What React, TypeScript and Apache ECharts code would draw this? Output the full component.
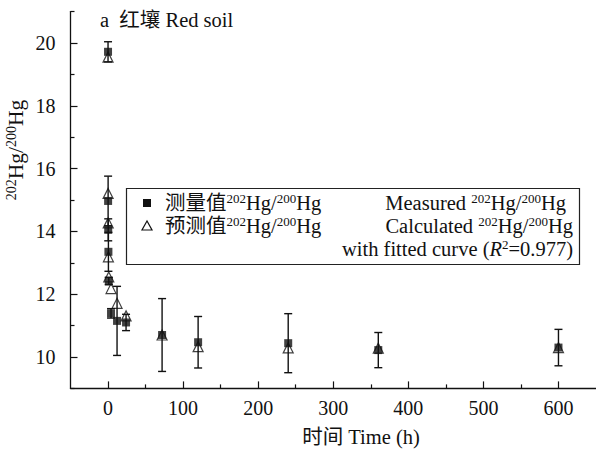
import React, { useEffect, useRef } from "react";
import * as echarts from "echarts";

const times = [0, 0.1, 0.25, 0.5, 1, 4, 12, 24, 72, 120, 240, 360, 600];
const measured = [19.72, 14.97, 14.05, 13.35, 12.42, 11.39, 11.15, 11.1, 10.7, 10.47, 10.44, 10.22, 10.3];
const measuredSD = [0.32, 0.79, 0.35, 0.62, 0.12, 0.15, 1.1, 0.26, 1.16, 0.82, 0.94, 0.56, 0.58];
const calculated = [19.55, 15.21, 14.27, 13.19, 12.55, 12.18, 11.71, 11.31, 10.7, 10.33, 10.29, 10.28, 10.3];

const xMajorTicks = [0, 100, 200, 300, 400, 500, 600];
const xMinorTicks = [50, 150, 250, 350, 450, 550];
const yMajorTicks = [10, 12, 14, 16, 18, 20];
const yMinorTicks = [9, 11, 13, 15, 17, 19, 21];

const FONT = "'Liberation Serif', 'Times New Roman', 'Noto Sans CJK SC', serif";
const INK = "#111";

const supRich = {
  n: { fontSize: 20.5, fontFamily: FONT, fill: INK, color: INK, lineHeight: 23 },
  s: { fontSize: 13, fontFamily: FONT, fill: INK, color: INK, lineHeight: 10, verticalAlign: "top" },
  i: { fontSize: 20.5, fontFamily: FONT, fill: INK, color: INK, lineHeight: 23, fontStyle: "italic" },
};

const yRich = {
  n: { fontSize: 21.5, fontFamily: FONT, fill: INK, color: INK, lineHeight: 24 },
  s: { fontSize: 14, fontFamily: FONT, fill: INK, color: INK, lineHeight: 11, verticalAlign: "top" },
};

export default function App() {
  const ref = useRef<HTMLDivElement>(null);
  useEffect(() => {
    if (!ref.current) return;
    const chart = echarts.init(ref.current, null, { renderer: "svg" });
    const errData = times.map((t, i) => [t, measured[i] - measuredSD[i], measured[i] + measuredSD[i]]);
    const option: any = {
      animation: false,
      backgroundColor: "#fff",
      grid: { left: 70.5, right: 0, top: 11.6, bottom: 64.6 },
      xAxis: [
        {
          type: "value",
          position: "bottom",
          min: -50,
          max: 650,
          axisLine: { show: true, lineStyle: { color: INK, width: 1.3 } },
          axisTick: { show: true, inside: true, length: 7, customValues: xMajorTicks, lineStyle: { color: INK, width: 1.2 } },
          axisLabel: { customValues: xMajorTicks, margin: 10, fontSize: 20, fontFamily: FONT, color: INK },
          splitLine: { show: false },
        },
        {
          type: "value",
          position: "bottom",
          min: -50,
          max: 650,
          axisLine: { show: false },
          axisTick: { show: true, inside: true, length: 4, customValues: xMinorTicks, lineStyle: { color: INK, width: 1.2 } },
          axisLabel: { show: false },
          splitLine: { show: false },
        },
      ],
      yAxis: [
        {
          type: "value",
          position: "left",
          min: 9,
          max: 21,
          axisLine: { show: true, onZero: false, lineStyle: { color: INK, width: 1.3 } },
          axisTick: { show: true, inside: true, length: 7, customValues: yMajorTicks, lineStyle: { color: INK, width: 1.2 } },
          axisLabel: { customValues: yMajorTicks, margin: 15, fontSize: 20, fontFamily: FONT, color: INK },
          splitLine: { show: false },
        },
        {
          type: "value",
          position: "left",
          min: 9,
          max: 21,
          axisLine: { show: false, onZero: false },
          axisTick: { show: true, inside: true, length: 4, customValues: yMinorTicks, lineStyle: { color: INK, width: 1.2 } },
          axisLabel: { show: false },
          splitLine: { show: false },
        },
      ],
      series: [
        {
          type: "custom",
          name: "err",
          xAxisIndex: 0,
          yAxisIndex: 0,
          z: 1,
          data: errData,
          encode: { x: 0, y: [1, 2] },
          renderItem: (params: any, api: any) => {
            const x = api.value(0);
            const lo = api.coord([x, api.value(1)]);
            const hi = api.coord([x, api.value(2)]);
            const hw = 4;
            const st = { stroke: INK, lineWidth: 1.4 };
            return {
              type: "group",
              children: [
                { type: "line", shape: { x1: hi[0], y1: hi[1], x2: lo[0], y2: lo[1] }, style: st },
                { type: "line", shape: { x1: hi[0] - hw, y1: hi[1], x2: hi[0] + hw, y2: hi[1] }, style: st },
                { type: "line", shape: { x1: lo[0] - hw, y1: lo[1], x2: lo[0] + hw, y2: lo[1] }, style: st },
              ],
            };
          },
        },
        {
          type: "scatter",
          name: "measured",
          xAxisIndex: 0,
          yAxisIndex: 0,
          z: 2,
          symbol: "rect",
          symbolSize: 8,
          itemStyle: { color: INK },
          data: times.map((t, i) => [t, measured[i]]),
        },
        {
          type: "scatter",
          name: "calculated",
          xAxisIndex: 0,
          yAxisIndex: 0,
          z: 3,
          symbol: "triangle",
          symbolSize: 10,
          itemStyle: { color: "rgba(0,0,0,0)", borderColor: INK, borderWidth: 1.2 },
          data: times.map((t, i) => [t, calculated[i]]),
        },
      ],
      graphic: [
        {
          type: "text",
          left: 100,
          top: 10,
          style: { text: "a  红壤 Red soil", fontSize: 20.5, fontFamily: FONT, fill: INK },
        },
        {
          type: "text",
          x: 361,
          y: 437,
          style: { text: "时间 Time (h)", fontSize: 20.5, fontFamily: FONT, fill: INK, align: "center", verticalAlign: "middle" },
        },
        {
          type: "text",
          x: 16,
          y: 150,
          rotation: Math.PI / 2,
          style: {
            text: "{s|202}{n|Hg/}{s|200}{n|Hg}",
            align: "center",
            verticalAlign: "middle",
            rich: yRich,
          },
        },
        {
          type: "rect",
          shape: { x: 126.5, y: 188.5, width: 453, height: 76 },
          style: { fill: "#fff", stroke: "#222", lineWidth: 1.2 },
          z: 10,
        },
        {
          type: "rect",
          shape: { x: 143, y: 199, width: 8, height: 8 },
          style: { fill: INK },
          z: 11,
        },
        {
          type: "polygon",
          shape: { points: [[147, 221], [142, 230], [152, 230]] },
          style: { fill: "none", stroke: INK, lineWidth: 1.2 },
          z: 11,
        },
        {
          type: "text",
          x: 165,
          y: 203,
          z: 11,
          style: { text: "{n|测量值}{s|202}{n|Hg/}{s|200}{n|Hg}", align: "left", verticalAlign: "middle", rich: supRich },
        },
        {
          type: "text",
          x: 165,
          y: 226,
          z: 11,
          style: { text: "{n|预测值}{s|202}{n|Hg/}{s|200}{n|Hg}", align: "left", verticalAlign: "middle", rich: supRich },
        },
        {
          type: "text",
          x: 566,
          y: 203,
          z: 11,
          style: { text: "{n|Measured }{s|202}{n|Hg/}{s|200}{n|Hg}", align: "right", verticalAlign: "middle", rich: supRich },
        },
        {
          type: "text",
          x: 573,
          y: 226,
          z: 11,
          style: { text: "{n|Calculated }{s|202}{n|Hg/}{s|200}{n|Hg}", align: "right", verticalAlign: "middle", rich: supRich },
        },
        {
          type: "text",
          x: 573,
          y: 249,
          z: 11,
          style: { text: "{n|with fitted curve (}{i|R}{s|2}{n|=0.977)}", align: "right", verticalAlign: "middle", rich: supRich },
        },
      ],
    };
    chart.setOption(option);
    return () => chart.dispose();
  }, []);
  return (
    <div
      ref={ref}
      style={{ position: "fixed", left: 0, top: 0, width: 596, height: 453, background: "#fff" }}
    />
  );
}
